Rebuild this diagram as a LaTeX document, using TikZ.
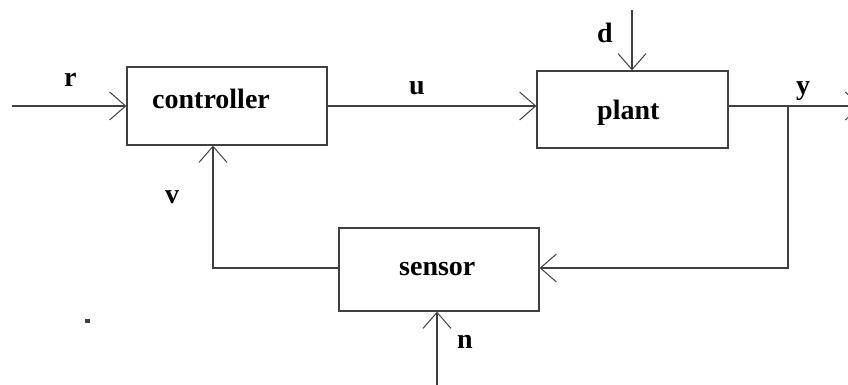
\documentclass[tikz,border=0pt]{standalone}
\usepackage{fontspec}
\setmainfont{Liberation Serif}
\usetikzlibrary{arrows.meta}
\definecolor{wire}{HTML}{404040}
\begin{document}
\begin{tikzpicture}[x=1pt,y=-1pt,
  wire/.style={draw=wire,line width=1.3pt},
  sig/.style={wire,-{Straight Barb[length=16pt,width=28pt,line width=1pt]}},
  block/.style={draw=wire,line width=1.3pt,fill=white,inner sep=0pt},
  txt/.style={font=\bfseries\fontsize{28}{33}\selectfont,inner sep=0pt,anchor=base west}]
  \clip (0,0) rectangle (848,385);
  \fill[white] (0,0) rectangle (848,385);

  % blocks
  \node[block,minimum width=200pt,minimum height=78pt] (ctrl) at (227,106) {};
  \node[block,minimum width=191pt,minimum height=77pt] (plant) at (632.5,109.5) {};
  \node[block,minimum width=200pt,minimum height=83pt] (sens) at (439,269.5) {};

  % block captions
  \node[txt] (tctrl) at (152,109) {controller};
  \node[txt] (tplant) at (597,120) {plant};
  \node[txt] (tsens) at (399,275) {sensor};

  % free ends and corners
  \coordinate (rin) at (12,106);
  \coordinate (yout) at (862,106);
  \coordinate (br) at (788,106);
  \coordinate (vx) at (213,268);
  \coordinate (din) at (632,10);
  \coordinate (nin) at (437,390);

  % signals
  \draw[sig] (rin) -- (rin -| ctrl.west);
  \draw[sig] (ctrl.east |- rin) -- (rin -| plant.west);
  \draw[sig] (plant.east |- rin) -- (yout);
  \draw[sig] (br) -- (br |- vx) -- (vx -| sens.east);
  \draw[sig] (vx -| sens.west) -- (vx) -- (vx |- ctrl.south);
  \draw[sig] (din) -- (din |- plant.north);
  \draw[sig] (nin) -- (nin |- sens.south);

  % signal names
  \node[txt] (lr) at (64,87) {r};
  \node[txt] (lu) at (409,95) {u};
  \node[txt] (ly) at (796,95) {y};
  \node[txt] (ld) at (597,43) {d};
  \node[txt] (lv) at (165,203) {v};
  \node[txt] (ln) at (457,348) {n};

  % small speck
  \fill[wire] (86,320) rectangle (89,322);
\end{tikzpicture}
\end{document}
